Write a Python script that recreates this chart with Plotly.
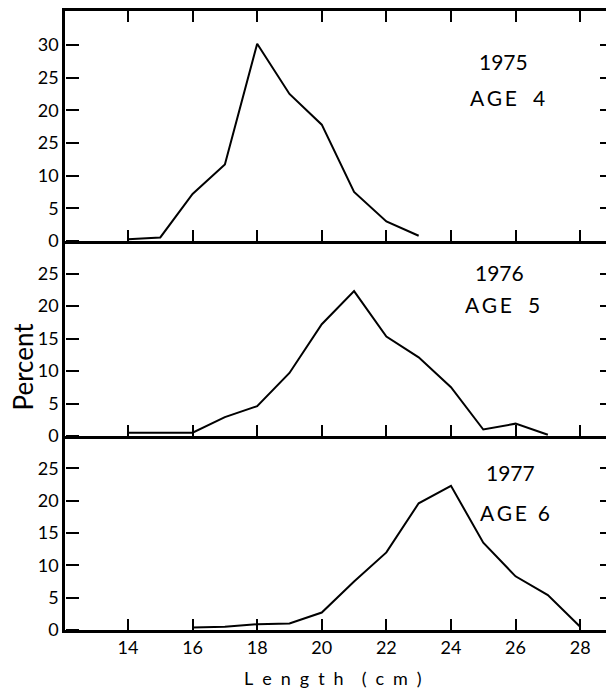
import plotly.graph_objects as go

# ---- data ----
len_1975 = [14, 15, 16, 17, 18, 19, 20, 21, 22, 23]
pct_1975 = [0.25, 0.55, 7.2, 11.7, 30.2, 22.5, 17.8, 7.5, 3.0, 0.8]

len_1976 = [14, 16, 17, 18, 19, 20, 21, 22, 23, 24, 25, 26, 27]
pct_1976 = [0.5, 0.5, 2.9, 4.6, 9.7, 17.2, 22.3, 15.3, 12.1, 7.5, 1.0, 1.9, 0.2]

len_1977 = [16, 17, 18, 19, 20, 21, 22, 23, 24, 25, 26, 27, 28]
pct_1977 = [0.4, 0.5, 0.9, 1.0, 2.7, 7.5, 12.0, 19.6, 22.3, 13.5, 8.3, 5.4, 0.5]

x_ticks = [14, 16, 18, 20, 22, 24, 26, 28]
x_ticktext = ["14", "16", "18", "20", "22", "24", "26", "28"]
y_ticks_top = [0, 5, 10, 15, 20, 25, 30]
y_ticktext_top = ["0", "5", "10", "25", "20", "25", "30"]   # as printed in the original
y_ticks_low = [0, 5, 10, 15, 20, 25]
y_ticktext_low = ["0", "5", "10", "15", "20", "25"]

panel_years = ["1975", "1976", "1977"]
panel_ages = ["AGE\u00a0\u00a0\u00a04", "AGE\u00a0\u00a0\u00a05", "AGE\u00a0\u00a06"]

FONT = "Lato"
W, H = 606, 691
mt, mb, ml, mr = 11, 61, 65, 0
plot_h = H - mt - mb
top_px, b1_px, b2_px, b3_px = 11, 241, 436, 630
def frac(px):
    return (b3_px - px) / plot_h

dom_top = [frac(b1_px), 1.0]
dom_mid = [frac(b2_px), frac(b1_px)]
dom_bot = [0.0, frac(b2_px)]

XR = [12.05, 28.8]
R_TOP = [0, 35.2]
R_LOW = [0, 30]

fig = go.Figure()
line = dict(color="black", width=2)
fig.add_trace(go.Scatter(x=len_1975, y=pct_1975, mode="lines", line=line, xaxis="x3", yaxis="y3", showlegend=False))
fig.add_trace(go.Scatter(x=len_1976, y=pct_1976, mode="lines", line=line, xaxis="x2", yaxis="y2", showlegend=False))
fig.add_trace(go.Scatter(x=len_1977, y=pct_1977, mode="lines", line=line, xaxis="x", yaxis="y", showlegend=False))
# invisible copies that activate the extra tick-only axes
ghost = dict(mode="lines", line=dict(width=0), opacity=0, showlegend=False, hoverinfo="skip")
for xa, ya, xs, ys in [("x3", "y6", len_1975, pct_1975), ("x2", "y5", len_1976, pct_1976), ("x", "y4", len_1977, pct_1977),
                       ("x3", "y9", len_1975, pct_1975), ("x2", "y8", len_1976, pct_1976), ("x", "y7", len_1977, pct_1977)]:
    fig.add_trace(go.Scatter(x=xs, y=ys, xaxis=xa, yaxis=ya, **ghost))

tickfont = dict(family=FONT, size=18, color="black")

def xaxis(anchor, labels, mirror=False):
    return dict(anchor=anchor, domain=[0, 1], range=XR, showline=True, linecolor="black", linewidth=2.5,
                ticks="inside", ticklen=11, tickwidth=2, tickcolor="black",
                tickvals=x_ticks, ticktext=x_ticktext, showticklabels=labels,
                showgrid=False, zeroline=False, mirror=("ticks" if mirror else False),
                tickfont=tickfont)

def yaxis(anchor, dom, rng, tv, tt):
    return dict(anchor=anchor, domain=dom, range=rng, showline=True, linecolor="black", linewidth=2.5,
                ticks="", tickvals=tv, ticktext=tt, showgrid=False, zeroline=False, tickfont=tickfont)

def yright(anchor, over, rng, tv):
    return dict(anchor=anchor, overlaying=over, side="right", range=rng, showline=False,
                ticks="inside", ticklen=6, tickwidth=2, tickcolor="black", tickvals=tv,
                showticklabels=False, showgrid=False, zeroline=False)

def yleftticks(over, rng, tv):
    # right-sided axis pinned to the left edge: its outward ticks point into the plot
    return dict(anchor="free", position=0, overlaying=over, side="right", range=rng, showline=False,
                ticks="outside", ticklen=13, tickwidth=2, tickcolor="black", tickvals=tv,
                showticklabels=False, showgrid=False, zeroline=False)

fig.update_layout(
    width=W, height=H,
    margin=dict(l=ml, r=mr, t=mt, b=mb),
    paper_bgcolor="white", plot_bgcolor="white",
    font=dict(family=FONT, color="black"),
    xaxis=xaxis("y", True),
    xaxis2=xaxis("y2", False),
    xaxis3=xaxis("y3", False, mirror=True),
    yaxis=yaxis("x", dom_bot, R_LOW, y_ticks_low, y_ticktext_low),
    yaxis2=yaxis("x2", dom_mid, R_LOW, y_ticks_low, y_ticktext_low),
    yaxis3=yaxis("x3", dom_top, R_TOP, y_ticks_top, y_ticktext_top),
    yaxis4=yright("x", "y", R_LOW, [5, 10, 15, 20, 25]),
    yaxis5=yright("x2", "y2", R_LOW, [5, 10, 15, 20, 25]),
    yaxis6=yright("x3", "y3", R_TOP, [5, 10, 15, 20, 25, 30]),
    yaxis7=yleftticks("y", R_LOW, y_ticks_low),
    yaxis8=yleftticks("y2", R_LOW, y_ticks_low),
    yaxis9=yleftticks("y3", R_TOP, y_ticks_top),
)

ann_font = dict(family=FONT, size=21, color="black")
hs = "\u2009"
anns = [
    dict(x=25.64, y=27.4, xref="x3", yref="y3", text=panel_years[0]),
    dict(x=25.74, y=21.9, xref="x3", yref="y3", text=hs.join(panel_ages[0][:3]) + panel_ages[0][3:]),
    dict(x=25.49, y=25.1, xref="x2", yref="y2", text=panel_years[1]),
    dict(x=25.58, y=20.2, xref="x2", yref="y2", text=hs.join(panel_ages[1][:3]) + panel_ages[1][3:]),
    dict(x=25.83, y=24.4, xref="x", yref="y", text=panel_years[2]),
    dict(x=25.98, y=18.2, xref="x", yref="y", text=hs.join(panel_ages[2][:3]) + panel_ages[2][3:]),
]
for a in anns:
    fig.add_annotation(**a, showarrow=False, font=ann_font, xanchor="center", yanchor="middle")

sp = "\u2002"
fig.add_annotation(text=sp.join("Length") + sp + sp + sp.join("(cm)"), xref="paper", yref="paper",
                   x=(333 - ml) / (W - ml - mr), y=-(678 - b3_px) / plot_h, showarrow=False,
                   font=dict(family=FONT, size=18, color="black"), xanchor="center", yanchor="middle")
fig.add_annotation(text="Percent", xref="paper", yref="paper",
                   x=-(ml - 22.5) / (W - ml - mr), y=(b3_px - 367) / plot_h, showarrow=False, textangle=-90,
                   font=dict(family=FONT, size=26, color="black"), xanchor="center", yanchor="middle")

fig.write_html("out.html")
